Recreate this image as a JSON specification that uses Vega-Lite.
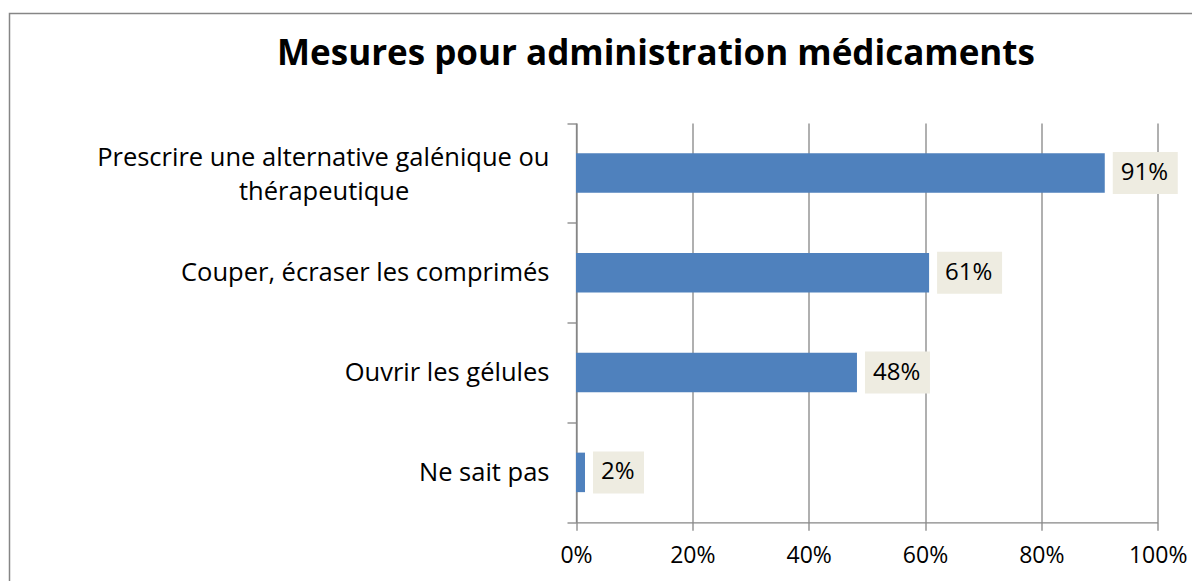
{
  "$schema": "https://vega.github.io/schema/vega-lite/v6.json",
  "width": 1185.5,
  "height": 618.3,
  "autosize": "none",
  "padding": {"left": 9.5, "top": 13.5, "right": -3, "bottom": -50.8},
  "background": "white",
  "config": {"view": {"stroke": "#868686", "strokeWidth": 1.5}},
  "title": {
    "text": "Mesures pour administration médicaments",
    "font": "Open Sans",
    "fontSize": 35,
    "fontWeight": "bold",
    "color": "black",
    "anchor": "middle",
    "frame": "group",
    "dx": 53.75,
    "offset": 0,
    "dy": 98.5,
    "baseline": "alphabetic"
  },
  "data": {
    "values": [
      {"cat": "Prescrire une alternative galénique ou thérapeutique", "pct": 0.909},
      {"cat": "Couper, écraser les comprimés", "pct": 0.607},
      {"cat": "Ouvrir les gélules", "pct": 0.483},
      {"cat": "Ne sait pas", "pct": 0.0155}
    ]
  },
  "encoding": {
    "y": {
      "field": "cat",
      "type": "nominal",
      "sort": null,
      "scale": {"range": [109.5, 508.8], "paddingInner": 0, "paddingOuter": 0},
      "axis": {
        "title": null,
        "offset": -566.5,
        "tickBand": "extent",
        "tickSize": 9,
        "tickColor": "#868686",
        "tickWidth": 1.3,
        "domainColor": "#868686",
        "domainWidth": 1.3,
        "grid": false,
        "labelFont": "Open Sans",
        "labelFontSize": 25.5,
        "labelColor": "black",
        "labelPadding": 18,
        "labelLimit": 700,
        "labelLineHeight": 34,
        "labelOffset": {"condition": {"test": "datum.value == 'Prescrire une alternative galénique ou thérapeutique'", "value": -15}, "value": 0},
        "labelExpr": "datum.value == 'Prescrire une alternative galénique ou thérapeutique' ? ['Prescrire une alternative galénique ou', 'thérapeutique\u2003\u2003\u2003\u2003\u2003\u2002\u200B'] : datum.label"
      }
    },
    "x": {
      "field": "pct",
      "type": "quantitative",
      "scale": {"domain": [0, 1], "range": [566.5, 1148.2]},
      "axis": {
        "title": null,
        "format": ".0%",
        "values": [0, 0.2, 0.4, 0.6, 0.8, 1],
        "offset": -109.5,
        "grid": true,
        "gridColor": "#868686",
        "gridWidth": 1.3,
        "domainColor": "#868686",
        "domainWidth": 1.3,
        "tickColor": "#868686",
        "tickWidth": 1.3,
        "tickSize": 8,
        "labelFont": "Open Sans",
        "labelFontSize": 23,
        "labelColor": "black",
        "labelPadding": 14,
        "labelFlush": false,
        "labelOverlap": false
      }
    }
  },
  "layer": [
    {"mark": {"type": "bar", "height": 39.5, "color": "#4F81BD"}},
    {
      "transform": [{"filter": "datum.pct >= 0.095"}],
      "mark": {"type": "bar", "height": 42, "color": "#EEECE1", "xOffset": 8, "x2Offset": 73},
      "encoding": {"x2": {"field": "pct"}}
    },
    {
      "transform": [{"filter": "datum.pct < 0.095"}],
      "mark": {"type": "bar", "height": 42, "color": "#EEECE1", "xOffset": 8, "x2Offset": 59},
      "encoding": {"x2": {"field": "pct"}}
    },
    {
      "mark": {"type": "text", "align": "left", "baseline": "middle", "dx": 16, "font": "Open Sans", "fontSize": 24, "color": "black"},
      "encoding": {"text": {"field": "pct", "format": ".0%"}}
    }
  ]
}
